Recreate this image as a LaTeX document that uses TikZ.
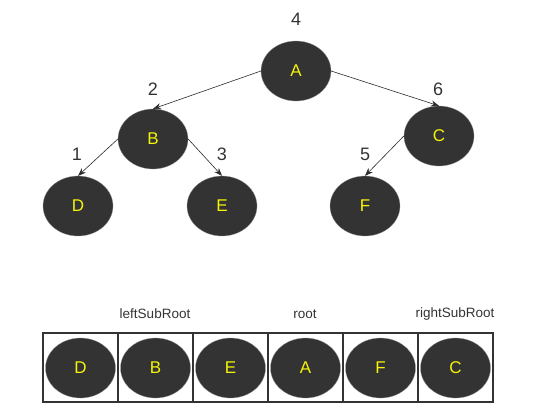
\documentclass[tikz,border=0pt]{standalone}
\usepackage{fontspec}
\setmainfont{Liberation Sans}
\usetikzlibrary{shapes.geometric,arrows.meta}
\definecolor{nodegray}{HTML}{333333}
\definecolor{nodeyellow}{HTML}{F5F50A}
\definecolor{linegray}{HTML}{2A2A2A}
\tikzset{
  tnode/.style={ellipse, fill=nodegray, draw=gray!80, line width=0.3pt, minimum width=70pt, minimum height=60pt, inner sep=0pt, text=nodeyellow, font=\fontsize{17}{19}\selectfont},
  num/.style={text=nodegray, font=\fontsize{18}{20}\selectfont},
  lbl/.style={text=nodegray, font=\fontsize{13.5}{15}\selectfont},
  edge/.style={draw=linegray, line width=0.6pt, -{Stealth[length=8pt,width=6pt]}},
  cell/.style={draw=nodegray, line width=1.2pt, minimum width=75pt, minimum height=69pt, inner sep=0pt}
}
\begin{document}
\begin{tikzpicture}[x=1pt,y=-1pt]
\useasboundingbox (0,0) rectangle (545,416);
% tree
\node[tnode] (A) at (296,71) {A};
\node[tnode] (B) at (153,139) {B};
\node[tnode] (C) at (439,136) {C};
\node[tnode] (D) at (78,206) {D};
\node[tnode] (E) at (222,206) {E};
\node[tnode] (F) at (365,206) {F};
\node[num] (n4) at (296,19) {4};
\node[num] (n2) at (153,89) {2};
\node[num] (n6) at (438,89) {6};
\node[num] (n1) at (77,154) {1};
\node[num] (n3) at (222,154) {3};
\node[num] (n5) at (365,154) {5};
\draw[edge] (A.west) -- (B.north);
\draw[edge] (A.east) -- (C.north);
\draw[edge] (B.west) -- (D.north);
\draw[edge] (B.east) -- (E.north);
\draw[edge] (C.west) -- (F.north);
% array
\node[cell] (c1) at (80.5,367.5) {};
\node[cell] (c2) at (155.5,367.5) {};
\node[cell] (c3) at (230.5,367.5) {};
\node[cell] (c4) at (305.5,367.5) {};
\node[cell] (c5) at (380.5,367.5) {};
\node[cell] (c6) at (455.5,367.5) {};
\node[tnode] (aD) at (80.5,368) {D};
\node[tnode] (aB) at (155.5,368) {B};
\node[tnode] (aE) at (230.5,368) {E};
\node[tnode] (aA) at (305.5,368) {A};
\node[tnode] (aF) at (380.5,368) {F};
\node[tnode] (aC) at (455.5,368) {C};
\node[lbl] (l1) at (155,314) {leftSubRoot};
\node[lbl] (l2) at (305,314) {root};
\node[lbl] (l3) at (455,314) {rightSubRoot};
\end{tikzpicture}
\end{document}
